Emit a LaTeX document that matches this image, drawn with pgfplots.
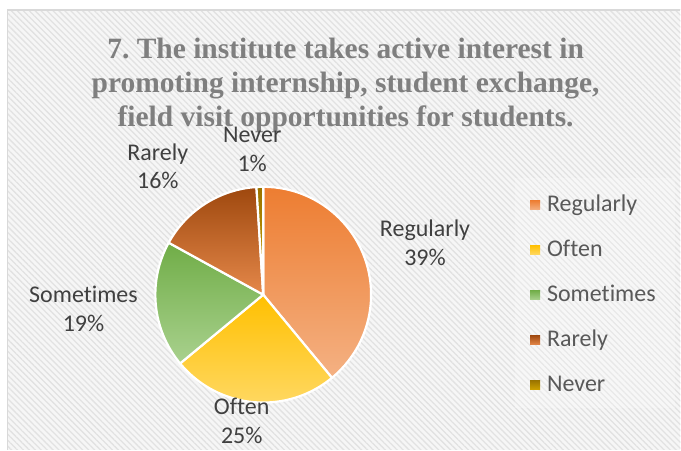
\documentclass[border=0pt]{standalone}
\usepackage{fontspec}
\setmainfont{Carlito}[Ligatures={NoCommon}]
\newfontfamily\titlefont{Liberation Serif}
\usepackage{pgfplots}
\pgfplotsset{compat=1.18}
\usepackage{pgfplotstable}
\usetikzlibrary{patterns.meta}
\frenchspacing

\definecolor{bgbase}{HTML}{F6F6F6}
\definecolor{stripe}{HTML}{E2E2E2}
\definecolor{framegray}{HTML}{D9D9D9}
\definecolor{titlegray}{HTML}{7F7F7F}
\definecolor{labeltext}{HTML}{404040}
\definecolor{legendtext}{HTML}{595959}
% slice gradients, top -> bottom
\definecolor{pietop0}{HTML}{ED7D31}\definecolor{piebot0}{HTML}{F4B183}
\definecolor{pietop1}{HTML}{FFC000}\definecolor{piebot1}{HTML}{FFD966}
\definecolor{pietop2}{HTML}{70AD47}\definecolor{piebot2}{HTML}{A9D18E}
\definecolor{pietop3}{HTML}{9E480E}\definecolor{piebot3}{HTML}{E5884A}
\definecolor{pietop4}{HTML}{997300}\definecolor{piebot4}{HTML}{CFA200}

% \nl keeps Carlito from joining ti / ft into a ligature
\newcommand\nl{\kern0pt}

% share in percent; lx, ly = where the data label sits
\pgfplotstableread[col sep=comma]{
label,value,lx,ly
Regularly,39,425.5,237
Of\nl ten,25,242,415
Somet\nl imes,19,83.6,303.3
Rarely,16,158,160.7
Never,1,252.5,143
}\pietable

\newcommand\cx{263.5}
\newcommand\cy{295}
\newcommand\rad{108}

\begin{document}
\begin{tikzpicture}
\begin{axis}[
    hide axis,
    x=1pt, y=1pt,
    y dir=reverse,
    xmin=0, xmax=681,
    ymin=0, ymax=450,
    clip=false,
]
% chart area
\pgfplotsextra{
  \path[fill=white] (axis cs:0,0) rectangle (axis cs:681,450);
  \path[fill=bgbase] (axis cs:7.5,10) rectangle (axis cs:681,450);
  \path[pattern={Lines[angle=-45,distance=4.2pt,line width=1.3pt]},
        pattern color=stripe] (axis cs:7.5,10) rectangle (axis cs:681,450);
  \draw[framegray, line width=1.5pt]
    (axis cs:7.5,450) -- (axis cs:7.5,10) -- (axis cs:681,10);
  \path[fill=white, fill opacity=0.22] (axis cs:516,178) rectangle (axis cs:676,408);
}
% title
\pgfplotsextra{
  \begin{scope}[every node/.style={anchor=base, inner sep=0pt, text=titlegray,
      font=\titlefont\bfseries\fontsize{29.5}{34}\selectfont}]
  \node at (axis cs:346,59)  {7. The institute takes active interest in};
  \node at (axis cs:346,93)  {promoting internship, student exchange,};
  \node at (axis cs:346,127) {field visit opportunities for students.};
  \end{scope}
}
% slices, clockwise from 12 o'clock
\pgfplotsextra{
  \gdef\startangle{90}
  \foreach \i in {0,...,4}{
    \pgfplotstablegetelem{\i}{value}\of\pietable
    \let\val\pgfplotsretval
    \pgfmathsetmacro\endangle{\startangle-3.6*\val}
    \pgfmathsetmacro\px{\cx+\rad*cos(\startangle)}
    \pgfmathsetmacro\py{\cy-\rad*sin(\startangle)}
    \path[draw=white, line width=2.2pt, line join=round,
          top color=pietop\i, bottom color=piebot\i]
      (axis cs:\cx,\cy) -- (axis cs:\px,\py)
      arc[start angle=\startangle, end angle=\endangle, radius=\rad pt] -- cycle;
    \xdef\startangle{\endangle}
  }
}
% data labels and legend
\pgfplotsextra{
  \foreach \i in {0,...,4}{
    \pgfplotstablegetelem{\i}{label}\of\pietable \let\lab\pgfplotsretval
    \pgfplotstablegetelem{\i}{value}\of\pietable \let\val\pgfplotsretval
    \pgfplotstablegetelem{\i}{lx}\of\pietable \let\lx\pgfplotsretval
    \pgfplotstablegetelem{\i}{ly}\of\pietable \let\ly\pgfplotsretval
    \pgfmathsetmacro\lyb{\ly+28.5}
    \node[anchor=base, inner sep=0pt, text=labeltext, font=\fontsize{24}{29}\selectfont]
      at (axis cs:\lx,\ly) {\lab};
    \node[anchor=base, inner sep=0pt, text=labeltext, font=\fontsize{24}{29}\selectfont]
      at (axis cs:\lx,\lyb) {\val\%};
    % legend entry
    \pgfmathsetmacro\lb{211.7+45*\i}
    \pgfmathsetmacro\sqt{\lb-11.2}
    \pgfmathsetmacro\sqb{\lb-1.5}
    \path[top color=pietop\i, bottom color=piebot\i]
      (axis cs:530.7,\sqt) rectangle (axis cs:540.7,\sqb);
    \node[anchor=base west, inner sep=0pt, text=legendtext, font=\fontsize{24}{29}\selectfont]
      at (axis cs:547.5,\lb) {\lab};
  }
}
\end{axis}
\end{tikzpicture}
\end{document}
